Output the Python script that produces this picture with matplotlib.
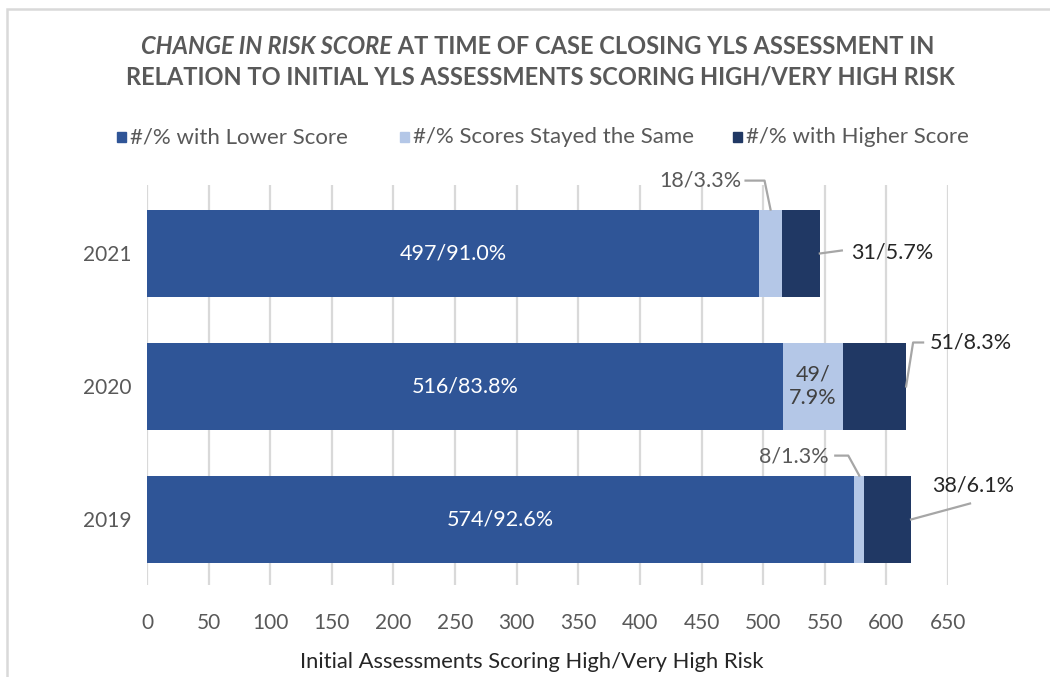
import matplotlib
matplotlib.use("Agg")
import matplotlib.pyplot as plt
from matplotlib.patches import Rectangle
from matplotlib.lines import Line2D
import numpy as np

years = ['2019', '2020', '2021']
lower = [574, 516, 497]
same = [8, 49, 18]
higher = [38, 51, 31]
lower_pct = [92.6, 83.8, 91.0]
same_pct = [1.3, 7.9, 3.3]
higher_pct = [6.1, 8.3, 5.7]
series_names = ['#/% with Lower Score', '#/% Scores Stayed the Same', '#/% with Higher Score']
xticks = list(range(0, 651, 50))

C_LOW = '#2F5597'
C_SAME = '#B4C7E7'
C_HIGH = '#203864'
GRAY = '#595959'
DARK = '#262626'
LEADER = '#A6A6A6'

plt.rcParams['font.family'] = ['Lato', 'DejaVu Sans']

W, H = 1050, 677
fig = plt.figure(figsize=(W / 100, H / 100), dpi=100)

def fx(px):
    return px / W

def fy(py):
    return 1 - py / H

ax = fig.add_axes([fx(147), fy(585), fx(948) - fx(147), (585 - 185) / H])
ypos = np.arange(len(years))
bh = 0.66
ax.barh(ypos, lower, height=bh, color=C_LOW, zorder=3)
left2 = np.array(lower)
ax.barh(ypos, same, left=left2, height=bh, color=C_SAME, zorder=3)
left3 = left2 + np.array(same)
ax.barh(ypos, higher, left=left3, height=bh, color=C_HIGH, zorder=3)
tot = left3 + np.array(higher)

ax.set_xlim(0, 650)
ax.set_ylim(-0.4925, 2.515)
ax.set_xticks(xticks)
ax.set_yticks(ypos)
ax.set_yticklabels(years)
ax.grid(axis='x', color='#D9D9D9', linewidth=1.6, zorder=0)
ax.set_axisbelow(True)
for s in ax.spines.values():
    s.set_visible(False)
ax.tick_params(axis='both', length=0, labelcolor=GRAY, labelsize=15)
ax.tick_params(axis='x', pad=20)
ax.tick_params(axis='y', pad=11)
fig.text(fx(532), fy(662), 'Initial Assessments Scoring High/Very High Risk', fontsize=15.8,
         color=DARK, ha='center', va='center')

# inside labels
for i in range(len(years)):
    ax.text(lower[i] / 2, ypos[i], f'{lower[i]}/{lower_pct[i]:.1f}%', color='white',
            fontsize=15.5, ha='center', va='center', zorder=5)

fig.canvas.draw()
tr = ax.transData

def disp(x, y):
    return tr.transform((x, y))

def leader(pts):
    xs = [p[0] for p in pts]
    ys = [p[1] for p in pts]
    fig.add_artist(Line2D(xs, ys, transform=None, color=LEADER, linewidth=1.6, zorder=6))

def label_at(pt, s, color, ha, va='center'):
    fig.text(pt[0] / W, pt[1] / H, s, color=color, fontsize=15.5, ha=ha, va=va)

# 2020 same (inside)
i = 1
ax.text(lower[i] + same[i] / 2, ypos[i], f'{same[i]}/\n{same_pct[i]:.1f}%', color='#404040',
        fontsize=15.5, ha='center', va='center', zorder=5, linespacing=1.25)

# 2021 same
i = 2
A = disp(lower[i] + same[i] / 2, ypos[i] + bh / 2)
leader([A, A + (-6, 29), A + (-25, 29)])
label_at(A + (-29, 29), f'{same[i]}/{same_pct[i]:.1f}%', GRAY, 'right')

# 2019 same
i = 0
A = disp(lower[i] + same[i] / 2, ypos[i] + bh / 2)
leader([A, A + (-11, 20), A + (-24, 20)])
label_at(A + (-31, 19), f'{same[i]}/{same_pct[i]:.1f}%', GRAY, 'right')

# 2021 higher
i = 2
A = disp(tot[i], ypos[i])
leader([A, A + (22, 3)])
label_at(A + (31, 1), f'{higher[i]}/{higher_pct[i]:.1f}%', DARK, 'left')

# 2020 higher
i = 1
A = disp(tot[i], ypos[i])
leader([A, A + (7, 44), A + (17, 44)])
label_at(A + (24, 44), f'{higher[i]}/{higher_pct[i]:.1f}%', DARK, 'left')

# 2019 higher
i = 0
A = disp(tot[i], ypos[i])
leader([A, A + (59, 16)])
label_at(A + (62, 34), f'{higher[i]}/{higher_pct[i]:.1f}%', DARK, 'center')

# legend (manual)
leg_x = [117, 400, 733]
leg_c = [C_LOW, C_SAME, C_HIGH]
for lx, c, name in zip(leg_x, leg_c, series_names):
    fig.add_artist(Rectangle((fx(lx), fy(142)), 9 / W, 10 / H, transform=fig.transFigure,
                             color=c))
    fig.text(fx(lx + 13), fy(137), name, fontsize=16, color=GRAY, ha='left', va='center')

# title with mixed styles
r = fig.canvas.get_renderer()
t1a = fig.text(0, fy(46), 'CHANGE IN RISK SCORE', fontsize=17, fontweight='bold',
               style='italic', color=GRAY, va='center', ha='left')
t1b = fig.text(0, fy(46), ' AT TIME OF CASE CLOSING YLS ASSESSMENT IN', fontsize=17,
               fontweight='bold', color=GRAY, va='center', ha='left')
wa = t1a.get_window_extent(r).width
wb = t1b.get_window_extent(r).width
start = 538 - (wa + wb) / 2
t1a.set_x(fx(start))
t1b.set_x(fx(start + wa))
fig.text(fx(540), fy(77), 'RELATION TO INITIAL YLS ASSESSMENTS SCORING HIGH/VERY HIGH RISK',
         fontsize=17, fontweight='bold', color=GRAY, va='center', ha='center')

# chart border (top and left visible)
fig.add_artist(Rectangle((fx(7), fy(H + 20)), (W + 20) / W, (H + 20 - 9) / H,
                         transform=fig.transFigure, fill=False, edgecolor='#D9D9D9',
                         linewidth=1.8))

fig.savefig('out.png', dpi=100, facecolor='white')
